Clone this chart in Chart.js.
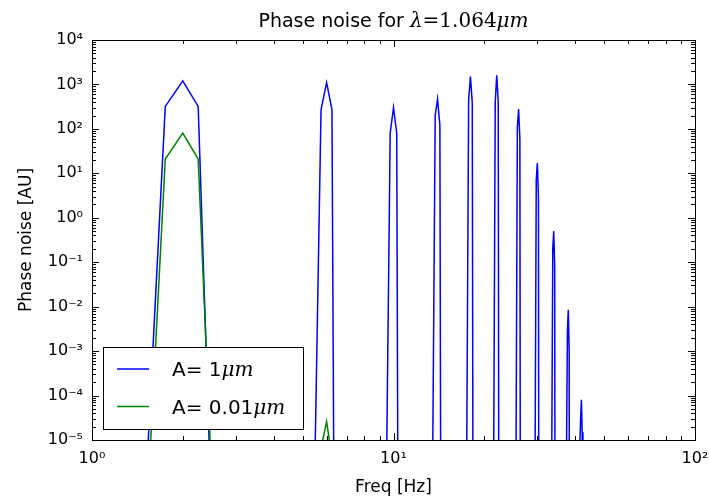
<!DOCTYPE html>
<html>
<head>
<meta charset="utf-8">
<script src="https://cdn.jsdelivr.net/npm/chart.js@4.4.0/dist/chart.umd.min.js"></script>
<style>
  html, body { margin: 0; padding: 0; background: #fff; }
  #wrap { width: 709px; height: 499px; }
</style>
</head>
<body>
<div id="wrap"><canvas id="noise-chart" width="709" height="499"></canvas></div>
<script>
// values, frequency in Hz, phase noise in AU
var freq_1um = [1.5, 1.75, 2, 2.25, 2.5,
	5.5, 5.75, 6, 6.25, 6.5,
	9.5, 9.75, 10, 10.25, 10.5,
	13.5, 13.75, 14, 14.25, 14.5,
	17.5, 17.75, 18, 18.25, 18.5,
	21.5, 21.75, 22, 22.25, 22.5,
	25.5, 25.75, 26, 26.25, 26.5,
	29.5, 29.75, 30, 30.25, 30.5,
	33.5, 33.75, 34, 34.25, 34.5,
	37.5, 37.75, 38, 38.25, 38.5,
	41.5, 41.75, 42, 42.25, 42.5];
var noise_1um = [4e-7, 320, 1200, 320, 1e-7,
	8e-6, 270, 1100, 270, 1e-20,
	8e-6, 80, 300, 80, 1e-20,
	8e-6, 200, 470, 120, 1e-20,
	8e-6, 450, 1500, 380, 1e-20,
	8e-6, 410, 1600, 410, 1e-20,
	8e-6, 110, 280, 60, 1e-20,
	8e-6, 7, 17, 3, 1e-20,
	8e-6, 0.2, 0.5, 0.08, 1e-20,
	8e-6, 0.003, 0.0085, 0.001, 1e-20,
	8e-6, 3e-5, 8e-5, 1.5e-5, 1e-20];
var freq_001um = [1.5, 1.75, 2, 2.25, 2.5, 5.5, 5.75, 6, 6.25, 6.5];
var noise_001um = [3.5e-8, 21, 80, 21, 1e-6, 1e-8, 6.6e-6, 2.6e-5, 3.9e-6, 1e-8];

var x_ticks = [1, 10, 100];
var y_ticks = [1e-5, 1e-4, 1e-3, 1e-2, 1e-1, 1, 10, 100, 1000, 10000];

var SANS = '"DejaVu Sans", sans-serif';
var SERIF = '"DejaVu Serif", serif';
Chart.defaults.font.family = SANS;
Chart.defaults.color = '#000';

var sup_map = {'-': '\u207B', '0': '\u2070', '1': '\u00B9', '2': '\u00B2', '3': '\u00B3',
	'4': '\u2074', '5': '\u2075', '6': '\u2076', '7': '\u2077', '8': '\u2078', '9': '\u2079'};
function pow10_label(v) {
	var e = String(Math.round(Math.log10(v)));
	return '10' + e.split('').map(c => sup_map[c]).join('');
}

function to_points(xs, ys) {
	return xs.map((x, i) => ({ x: x, y: ys[i] }));
}

// draws pieces of text with different fonts one after the other
function draw_parts(ctx, parts, x, y, align) {
	var total = 0;
	parts.forEach(p => { ctx.font = p.font; p.w = ctx.measureText(p.text).width; total += p.w; });
	var cx = align === 'center' ? x - total / 2 : x;
	ctx.textAlign = 'left';
	ctx.textBaseline = 'alphabetic';
	parts.forEach(p => { ctx.font = p.font; ctx.fillText(p.text, cx, y); cx += p.w; });
}

var decor = {
	id: 'decor',
	afterDatasetsDraw(chart) {
		var ctx = chart.ctx, a = chart.chartArea;
		var xs = chart.scales.x, ys = chart.scales.y;
		ctx.save();
		ctx.strokeStyle = '#000';
		ctx.fillStyle = '#000';
		ctx.lineWidth = 1;

		// ticks pointing inward, on all four sides
		ctx.beginPath();
		for (var d = 1; d <= 10; d *= 10) {
			for (var m = 1; m <= 9; m++) {
				var px = Math.round(xs.getPixelForValue(d * m)) + 0.5;
				var len = m === 1 ? 7 : 4;
				ctx.moveTo(px, a.bottom); ctx.lineTo(px, a.bottom - len);
				ctx.moveTo(px, a.top); ctx.lineTo(px, a.top + len);
			}
		}
		for (var e = -5; e < 4; e++) {
			for (var m = 1; m <= 9; m++) {
				var py = Math.round(ys.getPixelForValue(m * Math.pow(10, e))) + 0.5;
				var len = m === 1 ? 7 : 4;
				ctx.moveTo(a.left, py); ctx.lineTo(a.left + len, py);
				ctx.moveTo(a.right, py); ctx.lineTo(a.right - len, py);
			}
		}
		ctx.stroke();
		ctx.strokeRect(Math.round(a.left) + 0.5, Math.round(a.top) + 0.5,
			Math.round(a.right - a.left), Math.round(a.bottom - a.top));

		// title
		draw_parts(ctx, [
			{ text: 'Phase noise for ', font: '19px ' + SANS },
			{ text: '\u03BB', font: 'italic 20px ' + SERIF },
			{ text: '=', font: '20px ' + SERIF },
			{ text: '1.064', font: '20px ' + SERIF },
			{ text: '\u03BCm', font: 'italic 20px ' + SERIF }
		], (a.left + a.right) / 2, 27, 'center');

		// legend
		var lx = 103.5, ly = 347.5, lw = 200, lh = 82;
		ctx.fillStyle = '#fff';
		ctx.fillRect(lx, ly, lw, lh);
		ctx.strokeRect(lx, ly, lw, lh);
		var rows = [
			{ color: chart.data.datasets[0].borderColor, y: 369, label: 'A= 1' },
			{ color: chart.data.datasets[1].borderColor, y: 406.5, label: 'A= 0.01' }
		];
		rows.forEach(r => {
			ctx.strokeStyle = r.color;
			ctx.lineWidth = 1.5;
			ctx.beginPath();
			ctx.moveTo(117, r.y); ctx.lineTo(149, r.y);
			ctx.stroke();
			ctx.fillStyle = '#000';
			draw_parts(ctx, [
				{ text: r.label, font: '20px ' + SANS },
				{ text: '\u03BCm', font: 'italic 20px ' + SERIF }
			], 172, r.y + 7, 'left');
		});
		ctx.restore();
	}
};

var ctx = document.getElementById('noise-chart');

new Chart(ctx, {
	type: 'line',
	data: {
		datasets: [{
			label: 'A= 1\u03BCm',
			data: to_points(freq_1um, noise_1um),
			borderColor: '#0000ff',
			order: 1,
		}, {
			label: 'A= 0.01\u03BCm',
			data: to_points(freq_001um, noise_001um),
			borderColor: '#008000',
			order: 0,
		}],
	},
	options: {
		responsive: false,
		animation: false,
		events: [],
		clip: 0,
		elements: {
			line: { borderWidth: 1.5, tension: 0, fill: false },
			point: { radius: 0 }
		},
		layout: {
			padding: { left: 0, top: 40, right: 14, bottom: 0 }
		},
		scales: {
			x: {
				type: 'logarithmic',
				min: 1,
				max: 100,
				grid: { display: false, drawTicks: false },
				border: { display: false },
				afterBuildTicks: scale => { scale.ticks = x_ticks.map(v => ({ value: v })); },
				afterFit: scale => {
					scale.height = 59;
					scale.paddingLeft = 0;
					scale.paddingRight = 0;
				},
				ticks: {
					callback: v => pow10_label(v),
					font: { size: 16 },
					padding: 9,
					maxRotation: 0,
					autoSkip: false,
				},
				title: {
					display: true,
					text: 'Freq [Hz]',
					font: { size: 17 },
					padding: { top: 0, bottom: 1 },
				}
			},
			y: {
				type: 'logarithmic',
				min: 1e-5,
				max: 1e4,
				grid: { display: false, drawTicks: false },
				border: { display: false },
				afterBuildTicks: scale => { scale.ticks = y_ticks.map(v => ({ value: v })); },
				afterFit: scale => { scale.width = 92; },
				ticks: {
					callback: v => pow10_label(v),
					font: { size: 16 },
					padding: 9,
					autoSkip: false,
				},
				title: {
					display: true,
					text: 'Phase noise [AU]',
					font: { size: 17 },
					padding: { top: 16, bottom: 0 },
				}
			}
		},
		plugins: {
			legend: { display: false },
			title: { display: false },
			tooltip: { enabled: false }
		}
	},
	plugins: [decor]
});
</script>
</body>
</html>
